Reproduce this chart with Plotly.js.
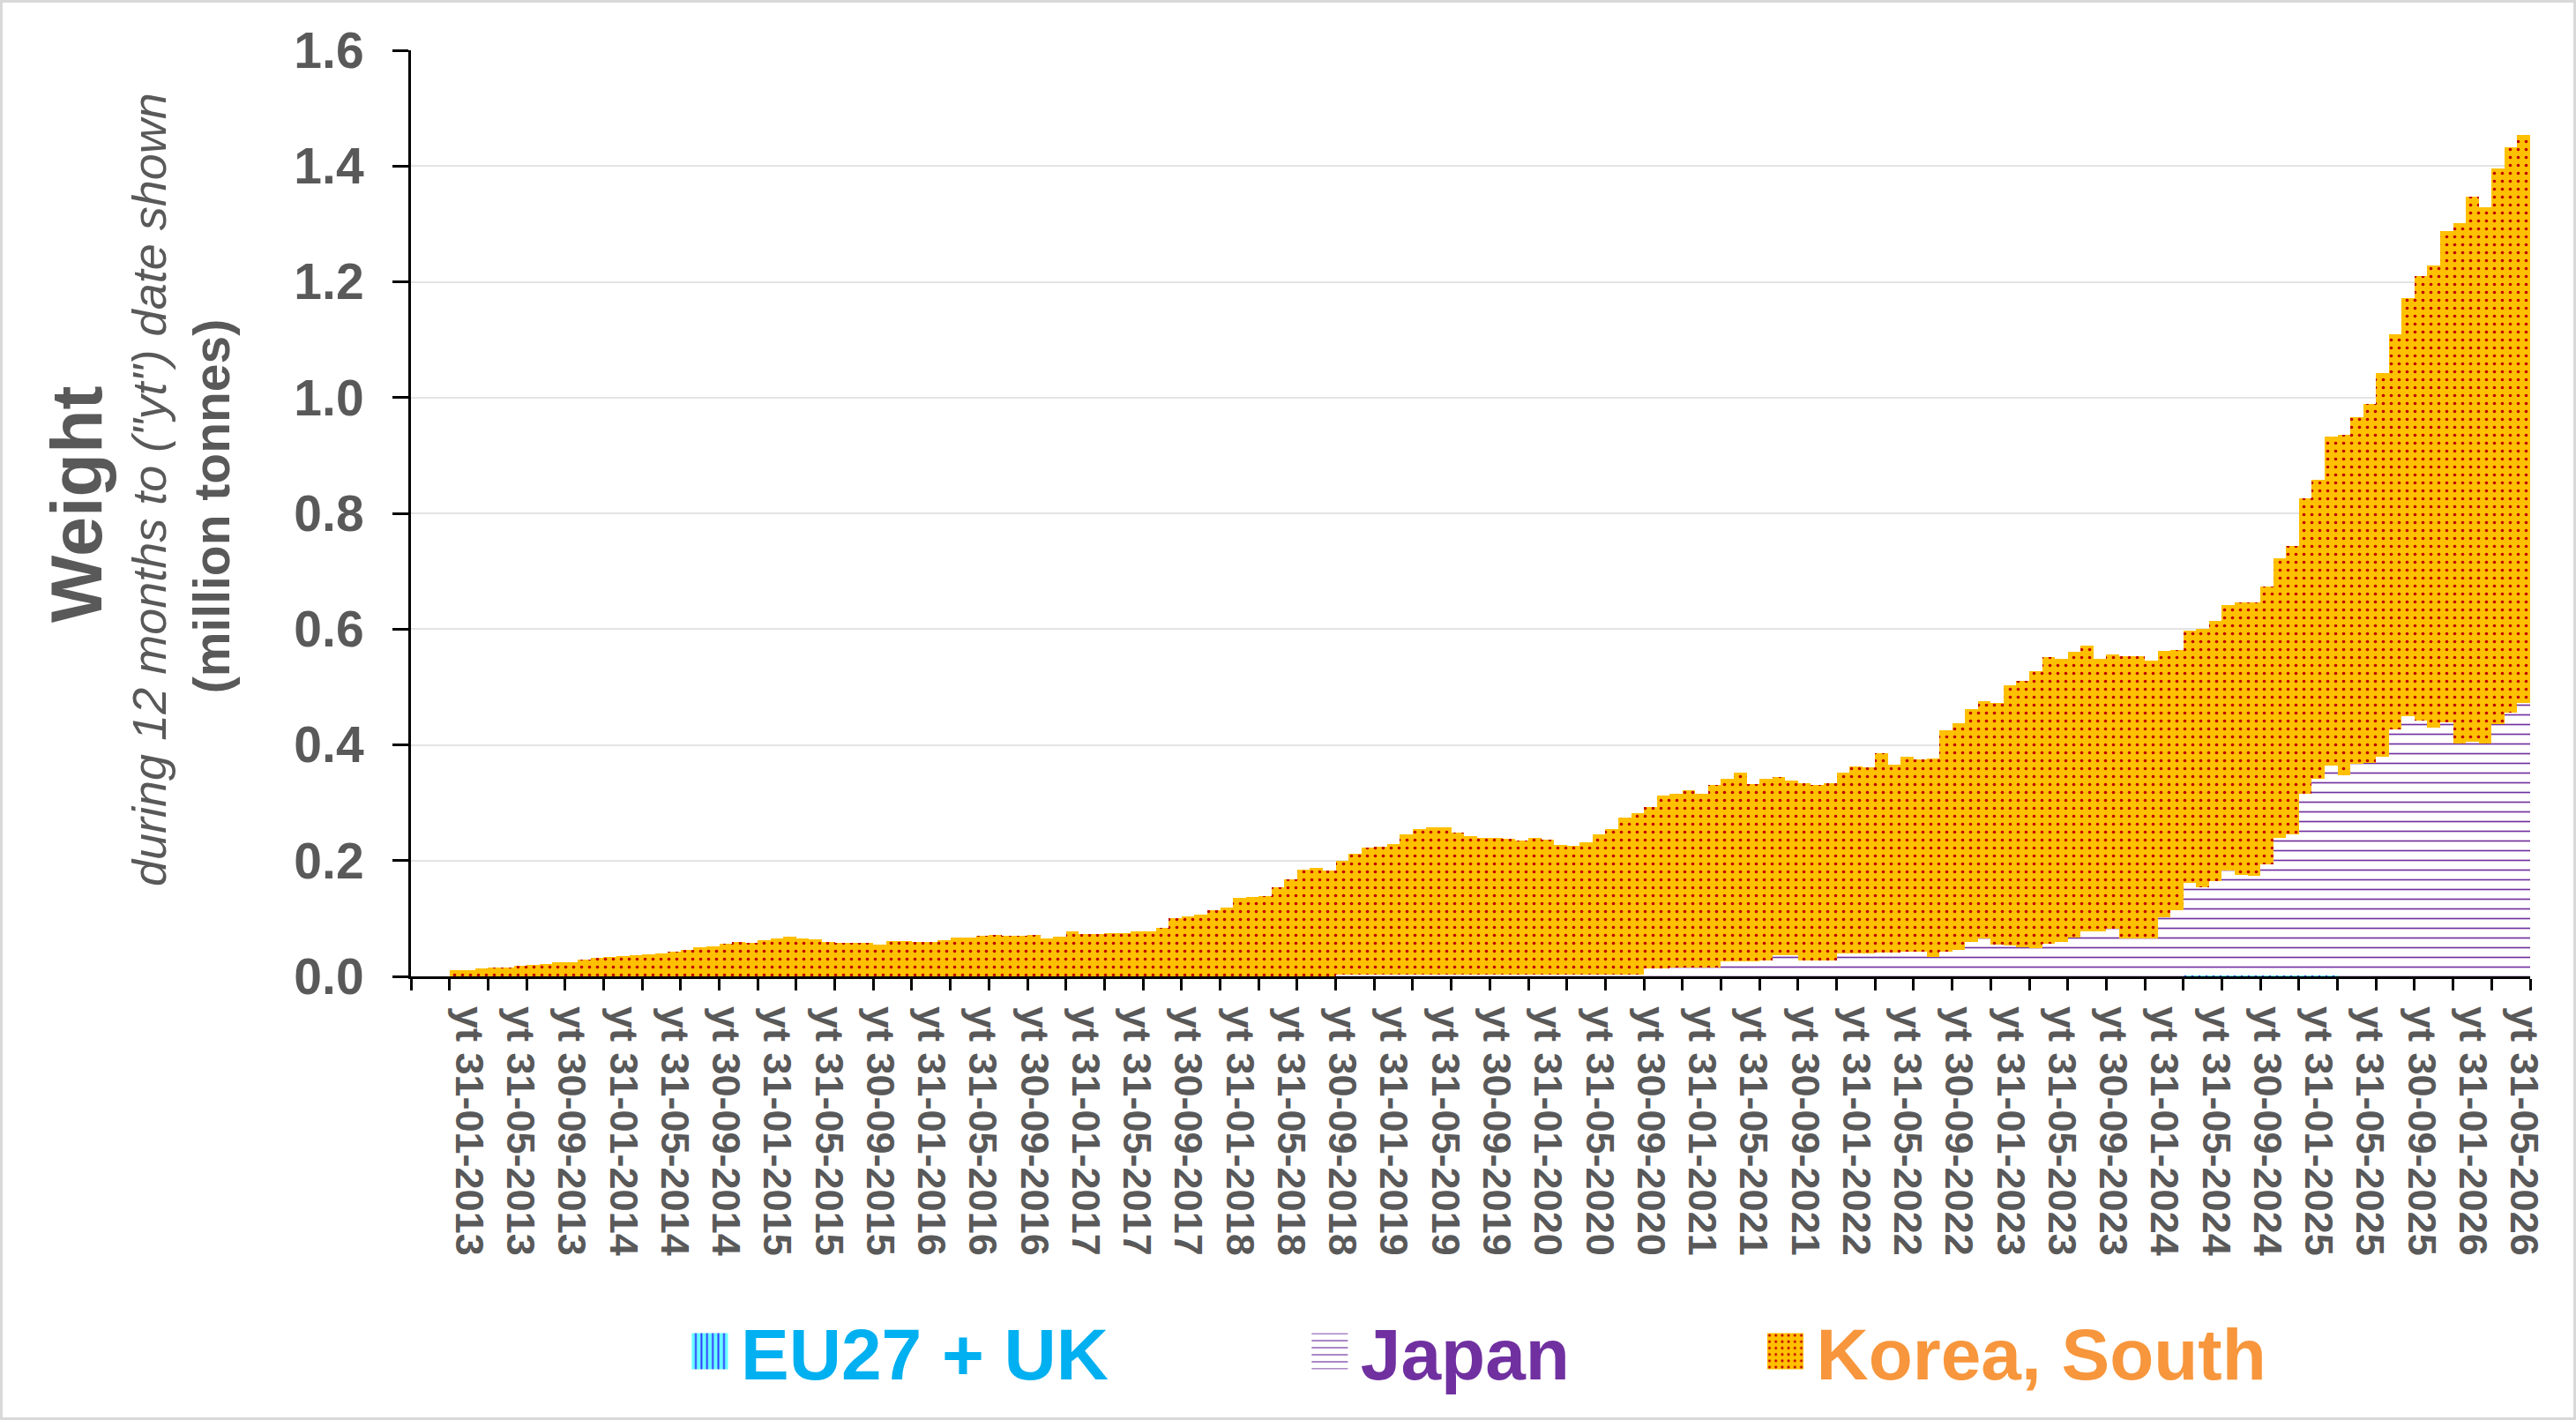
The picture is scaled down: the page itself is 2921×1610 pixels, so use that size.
<!DOCTYPE html>
<html>
<head>
<meta charset="utf-8">
<script src="https://cdn.plot.ly/plotly-3.0.1.min.js"></script>
<style>
  html, body { margin: 0; padding: 0; background: #fff; }
  #graph { width: 2915px; height: 1604px; border: 3px solid #d9d9d9; }
</style>
</head>
<body>
<div id="graph"></div>
<script>
// categories run monthly from Sep 2012 to May 2026, bars start Dec 2012
var firstYear = 2012, firstMonth = 9, nMonths = 165;

// million tonnes, 12 months to date, one value per category
var korea = [
  null, null, null, 0.010,                                                           // 2012 Sep-Dec
  0.011, 0.013, 0.015, 0.016, 0.018, 0.020, 0.022, 0.024, 0.025, 0.029, 0.032, 0.034, // 2013
  0.035, 0.036, 0.038, 0.040, 0.042, 0.046, 0.050, 0.052, 0.057, 0.059, 0.058, 0.062, // 2014
  0.066, 0.068, 0.065, 0.064, 0.060, 0.058, 0.058, 0.058, 0.055, 0.061, 0.061, 0.059, // 2015
  0.059, 0.063, 0.067, 0.067, 0.070, 0.072, 0.070, 0.070, 0.072, 0.065, 0.069, 0.077, // 2016
  0.073, 0.073, 0.074, 0.075, 0.077, 0.077, 0.084, 0.101, 0.104, 0.106, 0.114, 0.119, // 2017
  0.135, 0.137, 0.139, 0.154, 0.168, 0.185, 0.187, 0.183, 0.196, 0.209, 0.219, 0.221, // 2018
  0.226, 0.243, 0.251, 0.254, 0.255, 0.245, 0.239, 0.237, 0.237, 0.234, 0.231, 0.237, // 2019
  0.233, 0.224, 0.222, 0.228, 0.243, 0.251, 0.272, 0.279, 0.280, 0.300, 0.300, 0.307, // 2020
  0.300, 0.314, 0.315, 0.326, 0.306, 0.315, 0.307, 0.302, 0.306, 0.302, 0.306, 0.313, // 2021
  0.324, 0.322, 0.344, 0.324, 0.338, 0.333, 0.342, 0.383, 0.392, 0.401, 0.410, 0.417, // 2022
  0.449, 0.459, 0.479, 0.495, 0.489, 0.494, 0.495, 0.472, 0.473, 0.487, 0.487, 0.479, // 2023
  0.460, 0.450, 0.436, 0.446, 0.450, 0.458, 0.470, 0.472, 0.481, 0.484, 0.497, 0.510, // 2024
  0.517, 0.568, 0.588, 0.599, 0.620, 0.663, 0.683, 0.723, 0.768, 0.799, 0.849, 0.899, // 2025
  0.942, 0.926, 0.960, 0.977, 0.981                                                   // 2026 Jan-May
];

var japan = [
  null, null, null, null,
  null, null, null, null, null, null, null, null, null, null, null, null,
  null, null, null, null, null, null, null, null, null, null, null, null,
  null, null, null, null, null, null, null, null, null, null, null, null,
  null, null, null, null, null, null, null, null, null, null, null, null,
  null, null, null, null, null, null, null, null, null, null, null, null,
  null, null, null, null, null, null, null, null, 0.003, 0.003, 0.003, 0.003,
  0.003, 0.003, 0.003, 0.003, 0.003, 0.003, 0.003, 0.003, 0.003, 0.003, 0.003, 0.003,
  0.003, 0.003, 0.003, 0.003, 0.003, 0.003, 0.003, 0.003, 0.013, 0.013, 0.015, 0.015,
  0.015, 0.016, 0.026, 0.026, 0.026, 0.027, 0.037, 0.037, 0.027, 0.028, 0.028, 0.039,
  0.039, 0.039, 0.041, 0.041, 0.042, 0.042, 0.034, 0.042, 0.045, 0.060, 0.065, 0.055,
  0.054, 0.051, 0.049, 0.057, 0.059, 0.067, 0.077, 0.077, 0.083, 0.066, 0.066, 0.066,
  0.102, 0.114, 0.160, 0.152, 0.162, 0.181, 0.174, 0.172, 0.191, 0.237, 0.244, 0.314,
  0.339, 0.362, 0.347, 0.367, 0.369, 0.379, 0.426, 0.449, 0.442, 0.429, 0.439, 0.403,
  0.405, 0.403, 0.436, 0.455, 0.473
];

var eu = [
  null, null, null, null,
  null, null, null, null, null, null, null, null, null, null, null, null,
  null, null, null, null, null, null, null, null, null, null, null, null,
  null, null, null, null, null, null, null, null, null, null, null, null,
  null, null, null, null, null, null, null, null, null, null, null, null,
  null, null, null, null, null, null, null, null, null, null, null, null,
  null, null, null, null, null, null, null, null, null, null, null, null,
  null, null, null, null, null, null, null, null, null, null, null, null,
  null, null, null, null, null, null, null, null, null, null, null, null,
  null, null, null, null, null, null, null, null, null, null, null, null,
  null, null, null, null, null, null, null, null, null, null, null, null,
  null, null, null, null, null, null, null, null, null, null, null, null,
  null, null, 0.002, 0.002, 0.002, 0.002, 0.002, 0.002, 0.002, 0.002, 0.002, 0.002,
  0.002, 0.002, null, null, null, null, null, null, null, null, null, null,
  null, null, null, null, null
];

var tickLabels = [
  'yt 31-01-2013', 'yt 31-05-2013', 'yt 30-09-2013', 'yt 31-01-2014', 'yt 31-05-2014',
  'yt 30-09-2014', 'yt 31-01-2015', 'yt 31-05-2015', 'yt 30-09-2015', 'yt 31-01-2016',
  'yt 31-05-2016', 'yt 30-09-2016', 'yt 31-01-2017', 'yt 31-05-2017', 'yt 30-09-2017',
  'yt 31-01-2018', 'yt 31-05-2018', 'yt 30-09-2018', 'yt 31-01-2019', 'yt 31-05-2019',
  'yt 30-09-2019', 'yt 31-01-2020', 'yt 31-05-2020', 'yt 30-09-2020', 'yt 31-01-2021',
  'yt 31-05-2021', 'yt 30-09-2021', 'yt 31-01-2022', 'yt 31-05-2022', 'yt 30-09-2022',
  'yt 31-01-2023', 'yt 31-05-2023', 'yt 30-09-2023', 'yt 31-01-2024', 'yt 31-05-2024',
  'yt 30-09-2024', 'yt 31-01-2025', 'yt 31-05-2025', 'yt 30-09-2025', 'yt 31-01-2026',
  'yt 31-05-2026'
];

// "yt dd-mm-yyyy" label for every month-end category
var categories = [];
for (var i = 0; i < nMonths; i++) {
  var m = firstMonth - 1 + i;
  var y = firstYear + Math.floor(m / 12), mm = m % 12 + 1;
  var dd = new Date(y, mm, 0).getDate();
  categories.push('yt ' + dd + '-' + (mm < 10 ? '0' : '') + mm + '-' + y);
}
var xpos = categories.map(function (c, i) { return i; });
var tickvals = tickLabels.map(function (l) { return categories.indexOf(l); });

var FONT = 'Liberation Sans, Arial, sans-serif';
var GREY = '#595959';

function series(name, values, legendId, bg, fg, shape, size, solidity) {
  return {
    type: 'bar', name: name, x: xpos, y: values, legend: legendId,
    marker: {
      color: bg, line: {width: 0},
      pattern: {shape: shape, bgcolor: bg, fgcolor: fg, size: size, solidity: solidity, fillmode: 'replace'}
    },
    hoverinfo: 'skip'
  };
}

var data = [
  series('EU27 + UK', eu, 'legend', '#66FFFF', '#3333FF', '|', 8, 0.3),
  series('Japan', japan, 'legend2', '#FFFFFF', '#7030A0', '-', 11, 0.15),
  series('Korea, South', korea, 'legend3', '#FFC000', '#C00000', '.', 9, 0.13)
];

function legendAt(x, color) {
  return {
    x: x, y: -0.405, xanchor: 'left', yanchor: 'middle', orientation: 'h',
    bgcolor: 'rgba(0,0,0,0)', borderwidth: 0, itemwidth: 60,
    font: {family: FONT, size: 82, weight: 'bold', color: color}
  };
}

var layout = {
  width: 2915, height: 1604,
  margin: {l: 463, r: 49, t: 54, b: 500},
  paper_bgcolor: '#ffffff', plot_bgcolor: '#ffffff',
  font: {family: FONT, color: GREY},
  barmode: 'stack', bargap: 0,
  showlegend: true,
  xaxis: {
    range: [-0.5, nMonths - 0.5], tickmode: 'array', tickvals: tickvals, ticktext: tickLabels,
    tickangle: 90, ticks: '', showgrid: false, zeroline: false,
    showline: true, linecolor: '#000', linewidth: 3,
    tickfont: {family: FONT, size: 45, weight: 'bold', color: GREY},
    ticklabelstandoff: 22,
    minor: {tickmode: 'linear', tick0: -0.5, dtick: 3, ticks: 'outside', ticklen: 13,
            tickwidth: 3, tickcolor: '#000', showgrid: false},
    automargin: false, fixedrange: true
  },
  yaxis: {
    range: [0, 1.6], tick0: 0, dtick: 0.2, tickformat: '.1f',
    ticks: 'outside', ticklen: 18, tickwidth: 3, tickcolor: '#000',
    showline: true, linecolor: '#000', linewidth: 3,
    gridcolor: '#e4e4e4', gridwidth: 2, zeroline: false,
    tickfont: {family: FONT, size: 57, weight: 'bold', color: GREY},
    ticklabelstandoff: 21,
    automargin: false, fixedrange: true
  },
  legend: legendAt(0.1265, '#00B0F0'),
  legend2: legendAt(0.4190, '#7030A0'),
  legend3: legendAt(0.6340, '#F7963C'),
  annotations: [
    {text: 'Weight', x: -0.1577, y: 0.5095,
     font: {family: FONT, size: 81, weight: 'bold', color: GREY}},
    {text: 'during 12 months to ("yt") date shown', x: -0.1236, y: 0.5257,
     font: {family: FONT, size: 54, style: 'italic', color: GREY}},
    {text: '(million tonnes)', x: -0.0940, y: 0.5076,
     font: {family: FONT, size: 57, weight: 'bold', color: GREY}}
  ].map(function (a) {
    a.xref = 'paper'; a.yref = 'paper'; a.textangle = -90; a.showarrow = false;
    a.xanchor = 'center'; a.yanchor = 'middle';
    return a;
  })
};

Plotly.newPlot('graph', data, layout, {displayModeBar: false, staticPlot: true}).then(function () {
  // bigger legend swatches, like the original
  document.querySelectorAll('.legendpoints path').forEach(function (p) {
    p.setAttribute('d', 'M20.5,20.5H-20.5V-20.5H20.5Z');
  });
});
</script>
</body>
</html>
